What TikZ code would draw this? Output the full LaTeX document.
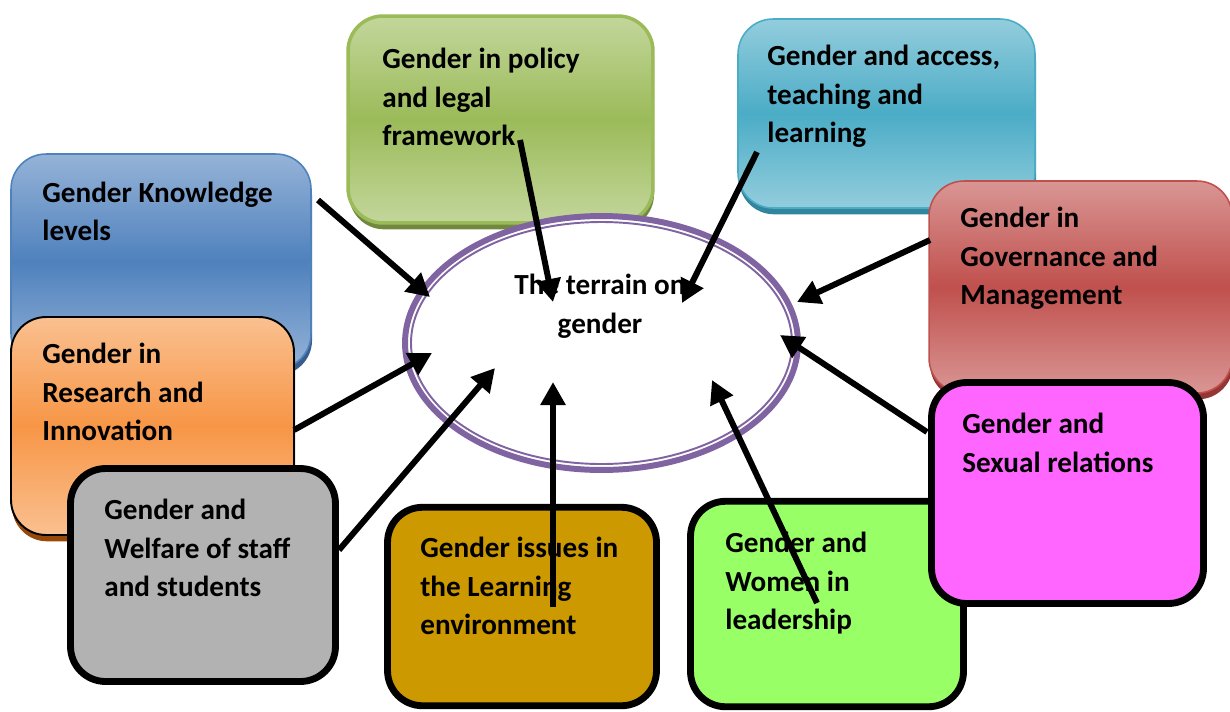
\documentclass[tikz,border=0pt]{standalone}
\usepackage{fontspec}
\setmainfont{Carlito}
\usetikzlibrary{arrows.meta,shadows,shapes.geometric}

\definecolor{olivebox}{HTML}{9BBB59}
\definecolor{olivelite}{HTML}{C3D69B}
\definecolor{olivedark}{HTML}{71893F}
\definecolor{aquabox}{HTML}{4BACC6}
\definecolor{aqualite}{HTML}{93CDDD}
\definecolor{aquadark}{HTML}{31859C}
\definecolor{bluebox}{HTML}{4F81BD}
\definecolor{bluelite}{HTML}{95B3D7}
\definecolor{bluedark}{HTML}{385D8A}
\definecolor{redbox}{HTML}{C0504D}
\definecolor{redlite}{HTML}{D99694}
\definecolor{reddark}{HTML}{943634}
\definecolor{orangebox}{HTML}{F79646}
\definecolor{orangelite}{HTML}{FAC090}
\definecolor{orangedark}{HTML}{984807}
\definecolor{greybox}{HTML}{B2B2B2}
\definecolor{mustardbox}{HTML}{CC9900}
\definecolor{limebox}{HTML}{99FF66}
\definecolor{pinkbox}{HTML}{FF66FF}
\definecolor{terrainline}{HTML}{8064A2}

\tikzset{
	box/.style={rectangle, rounded corners=0.7cm, inner sep=0pt, outer sep=0pt},
	glossbox/.style n args={4}{box, draw=#1, line width=#4, top color=#2, bottom color=#2, middle color=#1,
		drop shadow={opacity=1, fill=#3, shadow xshift=0.6pt, shadow yshift=-3.6pt}},
	flatbox/.style={box, draw=black, line width=3.9pt, fill=#1},
	label/.style={anchor=north west, inner sep=0pt, align=left, font=\fontsize{16.6}{21.9}\selectfont\bfseries},
	pointer/.style={line width=3.4pt, -{Triangle[length=0.46cm, width=0.48cm]}},
}

\begin{document}
\begin{tikzpicture}[x=0.02cm, y=-0.02cm]
		%%%%% START %%%%%
		\useasboundingbox (0,0) rectangle (1230,711);
		
		% left column
		\node[glossbox={bluebox}{bluelite}{bluedark}{0.9pt}, minimum width=6.0cm, minimum height=4.3cm] (knowledge) at (161,261.5) {};
		\node[label] (knowledgeT) at (42,181.5) {Gender Knowledge\\levels};
		
		\node[glossbox={orangebox}{orangelite}{orangedark}{1.1pt}, draw=black, minimum width=5.66cm, minimum height=4.36cm] (research) at (152.5,426) {};
		\node[label] (researchT) at (42,343) {Gender in\\Research and\\Innovation};
		
		\node[flatbox=greybox, minimum width=5.3cm, minimum height=4.26cm] (welfare) at (203,575) {};
		\node[label] (welfareT) at (104,499) {Gender and\\Welfare of staff\\and students};
		
		% top row
		\node[glossbox={olivebox}{olivelite}{olivedark}{2pt}, minimum width=6.1cm, minimum height=4.14cm] (policy) at (500.5,119.5) {};
		\node[label] (policyT) at (382,48) {Gender in policy\\and legal\\framework};
		
		\node[glossbox={aquabox}{aqualite}{aquadark}{0.9pt}, minimum width=5.94cm, minimum height=3.78cm] (access) at (886.5,113.5) {};
		\node[label] (accessT) at (767,45) {Gender and access,\\teaching and\\learning};
		
		% centre
		\node[ellipse, draw=terrainline, line width=3.4pt, fill=white, minimum width=7.86cm, minimum height=5.08cm, inner sep=0pt] (terrain) at (601.5,343) {};
		\draw[terrainline, line width=1.1pt] (terrain.center) ellipse (190.5 and 121);
		\node[label, anchor=north, align=center] (terrainT) at (600,274) {The terrain on\\gender};
		
		% right column
		\node[glossbox={redbox}{redlite}{reddark}{0.9pt}, minimum width=6.06cm, minimum height=4.24cm] (governance) at (1080.5,287) {};
		\node[label] (governanceT) at (960,207) {Gender in\\Governance and\\Management};
		
		% bottom row
		\node[flatbox=mustardbox, minimum width=5.38cm, minimum height=3.97cm] (learning) at (522,606.5) {};
		\node[label] (learningT) at (420,537) {Gender issues in\\the Learning\\environment};
		
		\node[flatbox=limebox, minimum width=5.46cm, minimum height=4.11cm] (leadership) at (827,604) {};
		\node[label] (leadershipT) at (725,532) {Gender and\\Women in\\leadership};
		
		\node[flatbox=pinkbox, minimum width=5.44cm, minimum height=4.42cm] (sexual) at (1067.5,493) {};
		\node[label] (sexualT) at (962,413) {Gender and\\Sexual relations};
		
		% arrow ends
		\coordinate (knowledgeA) at (318,200);   \coordinate (knowledgeB) at (430,297);
		\coordinate (policyA) at (520,140);      \coordinate (policyB) at (553,302);
		\coordinate (accessA) at (757,152);      \coordinate (accessB) at (682,303);
		\coordinate (governanceA) at (930,240);  \coordinate (governanceB) at (797,302);
		\coordinate (researchA) at (294,430);    \coordinate (researchB) at (432,353);
		\coordinate (welfareA) at (339,550);     \coordinate (welfareB) at (495,368);
		\coordinate (learningA) at (553,607);    \coordinate (learningB) at (553,382);
		\coordinate (leadershipA) at (817,603);  \coordinate (leadershipB) at (712,380);
		\coordinate (sexualA) at (927,432);      \coordinate (sexualB) at (780,335);
		
		\foreach \n in {knowledge,policy,access,governance,research,welfare,learning,leadership,sexual}
			\draw[pointer] (\n A) -- (\n B);
		
		%%%%% END %%%%%
	\end{tikzpicture}
\end{document}
